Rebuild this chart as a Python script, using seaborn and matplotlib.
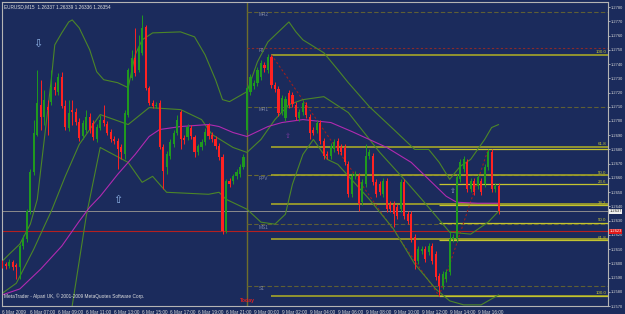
import matplotlib
matplotlib.use("Agg")
import matplotlib.pyplot as plt
import seaborn as sns
import numpy as np
import pandas as pd
import logging
logging.getLogger("matplotlib.font_manager").setLevel(logging.ERROR)

sns.set_theme(style="dark")
plt.rcParams['font.family'] = ['Liberation Sans Narrow', 'Liberation Sans', 'DejaVu Sans']

# ---------------- data (EURUSD M15, 6-9 Mar 2009) ----------------
opens = [1.26009,1.25995,1.25981,1.26009,1.25988,1.25974,1.26121,1.26170,1.26366,1.26639,
         1.26905,1.27115,1.27031,1.27101,1.27136,1.27241,1.27206,1.27311,1.27108,1.26954,
         1.27080,1.27066,1.26996,1.26891,1.26940,1.27031,1.26989,1.26870,1.26954,1.27010,
         1.26982,1.26926,1.26870,1.26856,1.26814,1.26765,1.27045,1.27304,1.27444,1.27360,
         1.27479,1.27661,1.27234,1.27129,1.27108,1.27129,1.26814,1.26674,1.26751,1.26835,
         1.26919,1.27066,1.26877,1.26884,1.26954,1.26884,1.26779,1.26814,1.26849,1.26975,
         1.26905,1.26870,1.26821,1.26744,1.26226,1.26576,1.26576,1.26611,1.26625,1.26674,
         1.26940,1.27206,1.27248,1.27269,1.27311,1.27395,1.27360,1.27451,1.27255,1.27227,
         1.27066,1.27024,1.27199,1.27185,1.27115,1.27024,1.27066,1.27115,1.27031,1.26940,
         1.26940,1.26989,1.26856,1.26765,1.26751,1.26800,1.26856,1.26814,1.26814,1.26695,
         1.26485,1.26611,1.26611,1.26429,1.26555,1.26751,1.26751,1.26569,1.26555,1.26485,
         1.26576,1.26415,1.26415,1.26394,1.26380,1.26569,1.26345,1.26345,1.26184,1.26016,
         1.26086,1.26100,1.26079,1.26121,1.26065,1.25911,1.25841,1.25890,1.25939,1.26170,
         1.26170,1.26590,1.26660,1.26709,1.26520,1.26576,1.26541,1.26576,1.26555,1.26674,
         1.26779,1.26520,1.26541]
closes = [1.25981,1.25981,1.26009,1.25974,1.25974,1.26121,1.26170,1.26366,1.26639,1.26919,
          1.27129,1.27031,1.27150,1.27080,1.27241,1.27220,1.27311,1.27108,1.26961,1.27059,
          1.27066,1.26996,1.26877,1.26989,1.27031,1.26940,1.26884,1.26961,1.27010,1.26989,
          1.26919,1.26870,1.26856,1.26800,1.26779,1.27059,1.27360,1.27444,1.27339,1.27521,
          1.27654,1.27234,1.27129,1.27108,1.27115,1.26814,1.26646,1.26765,1.26849,1.26919,
          1.27010,1.26870,1.26863,1.26961,1.26891,1.26779,1.26821,1.26849,1.26926,1.26891,
          1.26870,1.26821,1.26744,1.26226,1.26576,1.26555,1.26611,1.26639,1.26674,1.26744,
          1.27234,1.27311,1.27269,1.27360,1.27409,1.27374,1.27451,1.27255,1.27227,1.27059,
          1.27164,1.27157,1.27115,1.27122,1.27031,1.27066,1.27129,1.27045,1.26919,1.26919,
          1.26989,1.26856,1.26751,1.26751,1.26821,1.26849,1.26786,1.26779,1.26709,1.26485,
          1.26611,1.26625,1.26415,1.26569,1.26751,1.26779,1.26569,1.26485,1.26499,1.26576,
          1.26380,1.26380,1.26345,1.26331,1.26569,1.26331,1.26296,1.26170,1.26016,1.26100,
          1.26100,1.26030,1.26121,1.26016,1.25904,1.25841,1.25925,1.25939,1.26170,1.26184,
          1.26604,1.26709,1.26730,1.26520,1.26576,1.26499,1.26604,1.26499,1.26674,1.26779,
          1.26520,1.26541,1.26366]
highs = [1.26023,1.26009,1.26030,1.26023,1.26002,1.26135,1.26198,1.26380,1.26660,1.27010,
         1.27360,1.27290,1.27220,1.27150,1.27360,1.27276,1.27339,1.27346,1.27150,1.27150,
         1.27150,1.27094,1.27024,1.27010,1.27080,1.27059,1.27010,1.26982,1.27045,1.27115,
         1.27003,1.26947,1.26891,1.26877,1.26835,1.27080,1.27374,1.27500,1.27654,1.27605,
         1.27745,1.27675,1.27248,1.27150,1.27136,1.27150,1.26835,1.26786,1.26870,1.26940,
         1.27045,1.27080,1.26898,1.26982,1.26975,1.26905,1.26835,1.26870,1.26954,1.26989,
         1.26926,1.26891,1.26842,1.26765,1.26590,1.26597,1.26625,1.26660,1.26695,1.26765,
         1.27255,1.27332,1.27290,1.27381,1.27430,1.27416,1.27472,1.27465,1.27276,1.27248,
         1.27185,1.27178,1.27220,1.27206,1.27136,1.27087,1.27150,1.27136,1.27052,1.26961,
         1.27010,1.27010,1.26877,1.26786,1.26842,1.26870,1.26877,1.26835,1.26835,1.26716,
         1.26632,1.26646,1.26632,1.26590,1.26835,1.26800,1.26772,1.26590,1.26576,1.26597,
         1.26597,1.26436,1.26436,1.26415,1.26590,1.26590,1.26366,1.26366,1.26205,1.26121,
         1.26121,1.26121,1.26142,1.26142,1.26086,1.25932,1.25946,1.25960,1.26226,1.26205,
         1.26625,1.26730,1.26751,1.26730,1.26597,1.26597,1.26625,1.26597,1.26695,1.26800,
         1.26800,1.26562,1.26562]
lows = [1.25967,1.25960,1.25967,1.25953,1.25890,1.25890,1.26100,1.26149,1.26345,1.26618,
        1.26891,1.26940,1.26975,1.26905,1.27115,1.27185,1.27185,1.27094,1.26940,1.26933,
        1.26975,1.26975,1.26856,1.26870,1.26919,1.26919,1.26863,1.26849,1.26940,1.26968,
        1.26898,1.26849,1.26835,1.26660,1.26730,1.26730,1.27031,1.27290,1.27318,1.27346,
        1.27465,1.27220,1.27115,1.27094,1.27094,1.26800,1.26520,1.26625,1.26730,1.26814,
        1.26898,1.26800,1.26835,1.26863,1.26870,1.26744,1.26758,1.26793,1.26828,1.26870,
        1.26849,1.26800,1.26723,1.26205,1.26212,1.26534,1.26555,1.26590,1.26604,1.26660,
        1.26926,1.27185,1.27227,1.27248,1.27290,1.27346,1.27339,1.27234,1.27206,1.27038,
        1.27045,1.27003,1.27094,1.27101,1.27010,1.27003,1.27045,1.27024,1.26870,1.26898,
        1.26919,1.26835,1.26730,1.26730,1.26730,1.26779,1.26765,1.26758,1.26688,1.26464,
        1.26464,1.26590,1.26366,1.26408,1.26534,1.26730,1.26548,1.26464,1.26478,1.26464,
        1.26359,1.26359,1.26254,1.26310,1.26359,1.26310,1.26275,1.26149,1.25960,1.25995,
        1.26065,1.26009,1.26058,1.25995,1.25883,1.25771,1.25820,1.25869,1.25918,1.26149,
        1.26149,1.26569,1.26639,1.26499,1.26499,1.26478,1.26520,1.26478,1.26534,1.26653,
        1.26499,1.26499,1.26345]

# Bollinger bands and moving average (bar index, price)
upper_idx = [0,2,5,8,10,12,14,15,17,19,20,22,25,27,29,33,36,38,40,43,51,55,58,61,63,65,70,73,76,79,82,84,86,92,96,99,105,112,118,122,125,128,131,134,138,140,142]
upper_val = [1.26016,1.26065,1.26135,1.26275,1.26450,1.26870,1.27290,1.27535,1.27619,1.27696,1.27710,1.27654,1.27500,1.27346,1.27290,1.27269,1.27234,1.27465,1.27570,1.27619,1.27626,1.27591,1.27465,1.27290,1.27150,1.27136,1.27206,1.27416,1.27556,1.27626,1.27696,1.27626,1.27570,1.27479,1.27360,1.27269,1.27101,1.26940,1.26800,1.26800,1.26709,1.26590,1.26681,1.26730,1.26870,1.26954,1.26975]
mid_idx = [0,4,9,12,14,18,22,28,36,42,51,57,60,66,70,74,78,82,86,92,99,108,115,120,128,134,139,142]
mid_val = [1.25790,1.25860,1.26100,1.26261,1.26366,1.26611,1.26835,1.27045,1.26975,1.27094,1.27080,1.27010,1.26905,1.26814,1.26779,1.26870,1.27010,1.27115,1.27150,1.27171,1.27059,1.26779,1.26590,1.26450,1.26219,1.26205,1.26289,1.26366]
lower_idx = [19,24,28,36,40,43,47,59,62,64,70,74,78,81,83,86,89,93,96,105,112,118,124,128,132,137,142]
lower_val = [1.25545,1.26331,1.26814,1.26709,1.26569,1.26611,1.26499,1.26485,1.26499,1.26450,1.26380,1.26289,1.26275,1.26345,1.26555,1.26765,1.26870,1.26730,1.26695,1.26450,1.26239,1.25995,1.25820,1.25736,1.25708,1.25708,1.25778]
ma_idx = [0,5,11,17,22,25,28,33,38,42,45,51,59,62,66,70,76,80,86,94,100,105,110,117,122,127,130,136,142]
ma_val = [1.25778,1.25820,1.25960,1.26121,1.26296,1.26394,1.26471,1.26625,1.26765,1.26891,1.26940,1.26961,1.26975,1.26961,1.26919,1.26891,1.26961,1.26989,1.27010,1.26989,1.26926,1.26870,1.26814,1.26709,1.26590,1.26471,1.26429,1.26422,1.26422]

# pivot levels (start at the Monday session)
pivot_names = ["MR2", "R1", "MR1", "PPV", "MS1", "S1"]
pivot_vals = [1.27766, 1.27514, 1.27101, 1.26618, 1.26275, 1.25841]
fib_ratios = [0.0, 23.6, 38.2, 50.0, 61.8, 100.0]
fibA_labels = [50.0, 61.8, 100.0]
fibB_labels = [23.6, 38.2, 50.0, 61.8, 100.0]
zigzag_idx = [77, 125, 139]
bid_price = 1.26366
alert_price = 1.26226
ytick_vals = [round(1.2780 - 0.001 * k, 4) for k in range(22)]
xtick_labels = ["6 Mar 2009", "6 Mar 07:00", "6 Mar 09:00", "6 Mar 11:00", "6 Mar 13:00",
                "6 Mar 15:00", "6 Mar 17:00", "6 Mar 19:00", "6 Mar 21:00", "9 Mar 00:00",
                "9 Mar 02:00", "9 Mar 04:00", "9 Mar 06:00", "9 Mar 08:00", "9 Mar 10:00",
                "9 Mar 12:00", "9 Mar 14:00", "9 Mar 16:00"]

# ---------------- drawing ----------------
BG = "#1b2b5c"
W, H = 625, 314
FS = 3.4
YFS = 2.9
fig = plt.figure(figsize=(W / 100, H / 100), dpi=100, facecolor=BG)
ax = fig.add_axes([2 / W, 8 / H, 606 / W, 304 / H])
ax.set_facecolor(BG)
n = len(opens)
x = np.arange(n)
XMAX = 173.3
ax.set_xlim(-0.1, XMAX)
ax.set_ylim(1.25708, 1.27836)

# vertical day separator
ax.axvline(69.9, color="#6e6e2c", lw=1.0, zorder=1)

# pivot lines
pcol = {"MR2": "#5f5f35", "R1": "#8a2a2a", "MR1": "#5f5f35", "PPV": "#6a6a30",
        "MS1": "#5f5f35", "S1": "#5f5f35"}
for nm, v in zip(pivot_names, pivot_vals):
    ls = (0, (2, 2)) if nm == "R1" else (0, (4, 2))
    ax.hlines(v, 70, XMAX, color=pcol[nm], lw=0.8, linestyles=ls, zorder=1)
    ax.text(73.3, v - 0.00003, nm, color="#8088a8", fontsize=FS, va="top", ha="left", zorder=2)

# fibonacci A (high of bar 77 -> low of bar 125) and B (low of bar 125 -> high of bar 139)
hiA = highs[zigzag_idx[0]]
loA = lows[zigzag_idx[1]]
hiB = highs[zigzag_idx[2]]
for r in fib_ratios:
    lv = loA + r / 100 * (hiA - loA)
    ax.hlines(lv, zigzag_idx[0], XMAX, color="#a6a628", lw=1.2, zorder=1)
    if r in fibA_labels:
        ax.text(XMAX - 0.4, lv + 0.00003, f"{r:.1f}", color="#c8c832", fontsize=FS - 0.2,
                ha="right", va="bottom", zorder=3)
for r in fib_ratios:
    lv = hiB - r / 100 * (hiB - loA)
    ax.hlines(lv, zigzag_idx[1], XMAX, color="#c4c430", lw=0.9, zorder=1)
    if r in fibB_labels:
        ax.text(XMAX - 0.4, lv + 0.00003, f"{r:.1f}", color="#c8c832", fontsize=FS - 0.2,
                ha="right", va="bottom", zorder=3)

# bid & alert lines
ax.axhline(bid_price, color="#8c8c8c", lw=0.7, zorder=1)
ax.axhline(alert_price, color="#b42020", lw=0.8, zorder=1)

# zigzag
zz_val = [highs[zigzag_idx[0]], lows[zigzag_idx[1]], highs[zigzag_idx[2]]]
ax.plot(zigzag_idx, zz_val, color="#9a2020", lw=0.8, ls=(0, (2, 2)), zorder=2)

# indicators
sns.lineplot(x=upper_idx, y=upper_val, ax=ax, color="#4c8628", lw=0.8, zorder=2)
sns.lineplot(x=mid_idx, y=mid_val, ax=ax, color="#4c8628", lw=0.8, zorder=2)
sns.lineplot(x=lower_idx, y=lower_val, ax=ax, color="#4c8628", lw=0.8, zorder=2)
sns.lineplot(x=ma_idx, y=ma_val, ax=ax, color="#b02ab0", lw=0.8, zorder=2)

# candles
o = np.array(opens); c = np.array(closes)
up = c >= o
colors = np.where(up, "#1f9a1f", "#ff2222")
ax.vlines(x, lows, highs, colors=colors, lw=0.7, zorder=3)
bottom = np.minimum(o, c)
height = np.maximum(np.abs(c - o), 0.00003)
ax.bar(x, height, bottom=bottom, width=0.62, color=colors, linewidth=0, zorder=4)

# arrows
ax.text(10.0, 1.27544, "\u21e9", color="#8fb4e8", fontsize=8, ha="center", va="center",
        zorder=5, family="DejaVu Sans")
ax.text(33.0, 1.26442, "\u21e7", color="#8fb4e8", fontsize=8, ha="center", va="center",
        zorder=5, family="DejaVu Sans")
ax.text(81.8, 1.26891, "\u21e7", color="#7a3aa0", fontsize=5, ha="center", va="center",
        zorder=5, family="DejaVu Sans")
ax.text(129.0, 1.26506, "\u21e7", color="#8fa0c0", fontsize=5, ha="center", va="center",
        zorder=5, family="DejaVu Sans")

# texts
ax.text(0.4, 1.27800, "EURUSD,M15  1.26337 1.26339 1.26336 1.26354", color="#e0e0e0",
        fontsize=FS, ha="left", va="center", zorder=6)
ax.text(0.4, 1.25772, "MetaTrader - Alpari UK, \u00a9 2001-2009 MetaQuotes Software Corp.",
        color="#e0e0e0", fontsize=FS, ha="left", va="center", zorder=6)
ax.text(68.0, 1.25740, "Today", color="#e02020", fontsize=FS + 0.3, ha="left", va="center",
        zorder=6, fontweight="bold")

# axes styling
for sp in ax.spines.values():
    sp.set_color("#b4b4b4")
    sp.set_linewidth(0.8)
ax.grid(False)
ax.yaxis.tick_right()
ax.set_yticks(ytick_vals)
ax.set_yticklabels([f"{v:.4f}" for v in ytick_vals])
ax.set_xticks(np.arange(0, 8 * len(xtick_labels), 8))
ax.set_xticklabels(xtick_labels, ha="left")
ax.tick_params(axis="x", colors="#d8d8d8", labelsize=FS, length=2, width=0.5,
               pad=1.0, direction="out")
ax.tick_params(axis="y", colors="#d8d8d8", labelsize=YFS, length=1.5, width=0.5,
               pad=0.8, direction="out")
ax.set_xlabel("")
ax.set_ylabel("")

# bid/alert price boxes on the axis
ax.text(1.002, bid_price, f"{bid_price:.4f}", transform=ax.get_yaxis_transform(),
        color="#202020", fontsize=YFS, ha="left", va="center", zorder=7,
        bbox=dict(boxstyle="square,pad=0.15", fc="#f0f0f0", ec="none"), clip_on=False)
ax.text(1.002, alert_price, f"{alert_price:.4f}", transform=ax.get_yaxis_transform(),
        color="#ffffff", fontsize=YFS, ha="left", va="center", zorder=7,
        bbox=dict(boxstyle="square,pad=0.15", fc="#e01818", ec="none"), clip_on=False)

fig.savefig("out.png", dpi=100, facecolor=BG)
